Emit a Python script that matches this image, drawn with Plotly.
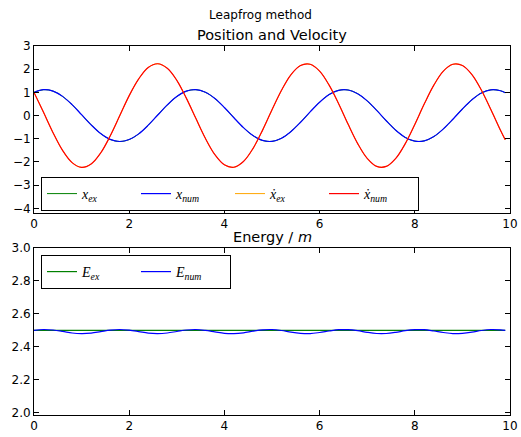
import plotly.graph_objects as go

# ---- data ----
t = [0.0, 0.2, 0.4, 0.6, 0.8, 1.0, 1.2, 1.4, 1.6, 1.8, 2.0, 2.2, 2.4, 2.6, 2.8, 3.0, 3.2, 3.4, 3.6, 3.8,
     4.0, 4.2, 4.4, 4.6, 4.8, 5.0, 5.2, 5.4, 5.6, 5.8, 6.0, 6.2, 6.4, 6.6, 6.8, 7.0, 7.2, 7.4, 7.6, 7.8,
     8.0, 8.2, 8.4, 8.6, 8.8, 9.0, 9.2, 9.4, 9.6, 9.8, 9.9]

x_ex = [1.00, 1.116, 1.055, 0.828, 0.471, 0.038, -0.399, -0.774, -1.027, -1.118, -1.032, -0.789, -0.413,
        0.026, 0.459, 0.820, 1.053, 1.116, 1.005, 0.736, 0.349, -0.092, -0.519, -0.863, -1.072, -1.111,
        -0.976, -0.684, -0.287, 0.157, 0.575, 0.905, 1.089, 1.102, 0.941, 0.632, 0.222, -0.221, -0.631,
        -0.941, -1.102, -1.089, -0.906, -0.574, -0.159, 0.285, 0.684, 0.975, 1.111, 1.072, 0.988]
x_num = [1.00, 1.116, 1.055, 0.828, 0.471, 0.038, -0.399, -0.774, -1.027, -1.118, -1.032, -0.789, -0.413,
         0.026, 0.459, 0.820, 1.053, 1.116, 1.005, 0.736, 0.349, -0.092, -0.519, -0.863, -1.072, -1.111,
         -0.976, -0.684, -0.287, 0.157, 0.575, 0.905, 1.089, 1.102, 0.941, 0.632, 0.222, -0.221, -0.631,
         -0.941, -1.102, -1.089, -0.906, -0.574, -0.159, 0.285, 0.684, 0.975, 1.111, 1.072, 0.988]
v_ex = [1.00, 0.142, -0.738, -1.502, -2.028, -2.235, -2.088, -1.614, -0.883, -0.012, 0.861, 1.583, 2.077,
        2.235, 2.039, 1.521, 0.753, -0.119, -0.979, -1.684, -2.124, -2.228, -1.981, -1.422, -0.637, 0.248,
        1.091, 1.769, 2.161, 2.214, 1.918, 1.312, 0.510, -0.378, -1.207, -1.845, -2.191, -2.192, -1.847,
        -1.209, -0.382, 0.506, 1.312, 1.919, 2.213, 2.162, 1.769, 1.095, 0.252, -0.633, -1.046]
v_num = [1.00, 0.142, -0.738, -1.502, -2.028, -2.235, -2.088, -1.614, -0.883, -0.012, 0.861, 1.583, 2.077,
         2.235, 2.039, 1.521, 0.753, -0.119, -0.979, -1.684, -2.124, -2.228, -1.981, -1.422, -0.637, 0.248,
         1.091, 1.769, 2.161, 2.214, 1.918, 1.312, 0.510, -0.378, -1.207, -1.845, -2.191, -2.192, -1.847,
         -1.209, -0.382, 0.506, 1.312, 1.919, 2.213, 2.162, 1.769, 1.095, 0.252, -0.633, -1.046]

t_E_ex = [0.0, 9.9]
E_ex = [2.5, 2.5]
E_num = [2.500, 2.505, 2.502, 2.494, 2.484, 2.480, 2.483, 2.492, 2.501, 2.505, 2.501, 2.4925, 2.483,
         2.480, 2.484, 2.493, 2.502, 2.505, 2.500, 2.491, 2.482, 2.480, 2.485, 2.495, 2.503, 2.505,
         2.499, 2.489, 2.482, 2.4805, 2.487, 2.496, 2.504, 2.504, 2.498, 2.488, 2.481, 2.481, 2.488,
         2.498, 2.504, 2.504, 2.496, 2.487, 2.4805, 2.482, 2.489, 2.499, 2.505, 2.503, 2.4995]

top_yticks = [-4, -3, -2, -1, 0, 1, 2, 3]
bot_yticks = [2.0, 2.2, 2.4, 2.6, 2.8, 3.0]
xticks = [0, 2, 4, 6, 8, 10]

GREEN, BLUE, ORANGE, RED = "#008000", "#0000ff", "#ffa500", "#ff0000"
LEG_FONT = dict(family="Liberation Serif", size=14, color="black")


def lab(base, sub, dot=False):
    b = "\u1e8b" if dot else base
    return f"<i>{b}</i><sub><i>{sub}</i></sub>"


fig = go.Figure()
common = dict(mode="lines", line_shape="spline")
fig.add_trace(go.Scatter(x=t, y=x_ex, name=lab("x", "ex"), line=dict(color=GREEN, width=1),
                         xaxis="x", yaxis="y", legend="legend", **common))
fig.add_trace(go.Scatter(x=t, y=x_num, name=lab("x", "num"), line=dict(color=BLUE, width=1.2),
                         xaxis="x", yaxis="y", legend="legend", **common))
fig.add_trace(go.Scatter(x=t, y=v_ex, name=lab("x", "ex", True), line=dict(color=ORANGE, width=1),
                         xaxis="x", yaxis="y", legend="legend", **common))
fig.add_trace(go.Scatter(x=t, y=v_num, name=lab("x", "num", True), line=dict(color=RED, width=1.2),
                         xaxis="x", yaxis="y", legend="legend", **common))
fig.add_trace(go.Scatter(x=t_E_ex, y=E_ex, name=lab("E", "ex"), line=dict(color=GREEN, width=1.2),
                         xaxis="x2", yaxis="y2", legend="legend2", mode="lines"))
fig.add_trace(go.Scatter(x=t, y=E_num, name=lab("E", "num"), line=dict(color=BLUE, width=1.2),
                         xaxis="x2", yaxis="y2", legend="legend2", **common))

axis_common = dict(showline=True, linecolor="black", linewidth=1, mirror="allticks", ticks="inside",
                   ticklen=5, tickcolor="black", showgrid=False, zeroline=False, automargin=False,
                   tickfont=dict(family="DejaVu Sans", size=12, color="black"))

top_dom = [(415 - 213) / 369, 1.0]
bot_dom = [0.0, (415 - 248) / 369]

fig.update_layout(
    width=521, height=437,
    margin=dict(l=34, r=11, t=46, b=22),
    paper_bgcolor="white", plot_bgcolor="white",
    font=dict(family="DejaVu Sans", size=12, color="black"),
    title=dict(text="Leapfrog method", x=0.5, xanchor="center", y=1 - 15 / 437, yanchor="middle",
               font=dict(size=12, family="DejaVu Sans")),
    xaxis=dict(domain=[0, 1], range=[0, 10], tickvals=xticks, anchor="y", **axis_common),
    yaxis=dict(domain=top_dom, range=[-4.2, 3], tickvals=top_yticks, anchor="x", **axis_common),
    xaxis2=dict(domain=[0, 1], range=[0, 10], tickvals=xticks, anchor="y2", **axis_common),
    yaxis2=dict(domain=bot_dom, range=[1.986, 3.0], tickvals=bot_yticks, tickformat=".1f", anchor="x2",
                **axis_common),
    legend=dict(orientation="h", x=(41 - 34) / 476, y=(415 - 177) / 369, xanchor="left", yanchor="top",
                bordercolor="black", borderwidth=1, bgcolor="white", font=LEG_FONT,
                entrywidth=49, entrywidthmode="pixels", traceorder="normal"),
    legend2=dict(orientation="h", x=(41 - 34) / 476, y=(415 - 255) / 369, xanchor="left", yanchor="top",
                 bordercolor="black", borderwidth=1, bgcolor="white", font=LEG_FONT,
                 entrywidth=49, entrywidthmode="pixels", traceorder="normal"),
    annotations=[
        dict(text="Position and Velocity", xref="paper", yref="paper", x=0.5, y=top_dom[1],
             xanchor="center", yanchor="bottom", yshift=1, showarrow=False,
             font=dict(size=14.5, family="DejaVu Sans")),
        dict(text="Energy / <i>m</i>", xref="paper", yref="paper", x=0.5, y=bot_dom[1],
             xanchor="center", yanchor="bottom", yshift=1, showarrow=False,
             font=dict(size=14.5, family="DejaVu Sans")),
    ],
)

fig.write_html("out.html")
